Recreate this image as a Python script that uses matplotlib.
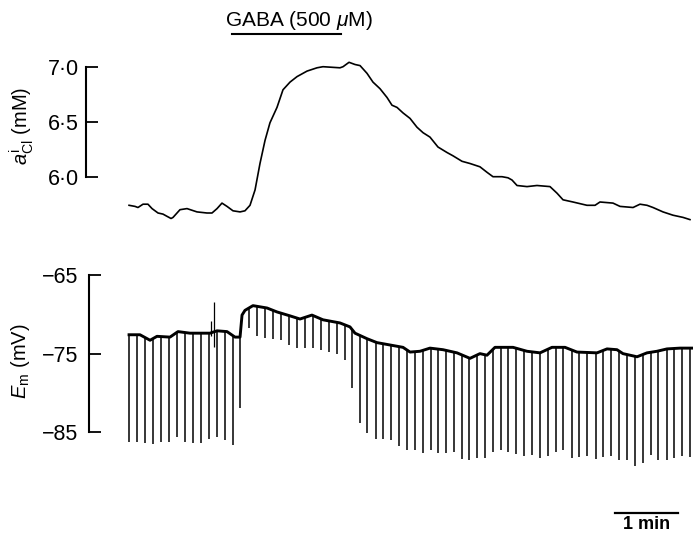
import numpy as np
import matplotlib
matplotlib.use('Agg')
import matplotlib.pyplot as plt

plt.rcParams['font.family'] = ['Liberation Sans', 'DejaVu Sans']
plt.rcParams['mathtext.fontset'] = 'custom'
plt.rcParams['mathtext.rm'] = 'Liberation Sans'
plt.rcParams['mathtext.it'] = 'Liberation Sans:italic'

# ---- data (time in s) ----
# intracellular Cl- activity (mM)
acl_t = [1.0, 6.7, 9.5, 14.3, 19.0, 22.9, 28.6, 33.3, 37.1, 41.0, 42.9, 49.5, 56.2,
         65.7, 75.2, 80.0, 84.8, 89.5, 94.3, 100.0, 106.7, 111.4, 116.2, 121.0,
         125.7, 130.5, 135.2, 141.9, 147.6, 154.3, 161.0, 170.5, 180.0, 185.7,
         201.9, 204.8, 210.5, 216.2, 221.0, 227.6, 233.3, 240.0, 246.7, 251.4,
         256.2, 261.9, 268.6, 275.2, 281.0, 287.6, 295.2, 303.8, 309.5, 318.1,
         325.7, 335.2, 341.9, 347.6, 356.2, 361.9, 365.7, 370.5, 380.0, 389.5,
         401.9, 408.6, 414.3, 423.8, 437.1, 444.8, 449.5, 461.9, 468.6, 481.0,
         487.6, 494.3, 500.0, 509.5, 519.0, 528.6, 535.2]
acl_v = [5.74, 5.73, 5.72, 5.75, 5.75, 5.71, 5.67, 5.66, 5.64, 5.62, 5.63, 5.70, 5.71,
         5.68, 5.67, 5.67, 5.71, 5.76, 5.73, 5.69, 5.68, 5.69, 5.74, 5.88,
         6.12, 6.33, 6.49, 6.63, 6.79, 6.86, 6.91, 6.96, 6.99, 7.00,
         6.99, 7.00, 7.04, 7.02, 7.01, 6.94, 6.86, 6.80, 6.72, 6.65,
         6.63, 6.58, 6.53, 6.45, 6.40, 6.36, 6.27, 6.22, 6.19, 6.14,
         6.12, 6.09, 6.04, 6.00, 6.00, 5.99, 5.97, 5.92, 5.91, 5.92,
         5.91, 5.85, 5.79, 5.77, 5.74, 5.74, 5.77, 5.76, 5.73, 5.72,
         5.75, 5.74, 5.72, 5.68, 5.65, 5.63, 5.61]

# membrane potential baseline (mV)
em_t = [1.0, 11.4, 21.0, 27.6, 40.0, 47.6, 59.0, 68.6, 78.1, 84.8, 94.3, 101.9, 106.7,
        108.6, 111.4, 119.0, 132.4, 141.9, 154.3, 163.8, 175.2, 185.7, 201.9, 211.4,
        216.2, 227.6, 237.1, 249.5, 261.9, 268.6, 278.1, 287.6, 300.0, 313.3, 325.7,
        335.2, 341.9, 349.5, 357.1, 366.7, 380.0, 392.4, 403.8, 416.2, 427.6, 446.7,
        456.2, 465.7, 471.4, 484.8, 494.3, 503.8, 513.3, 525.7, 538.1]
em_v = [-72.6, -72.6, -73.3, -72.8, -72.9, -72.2, -72.4, -72.4, -72.4, -72.1, -72.2, -72.9, -72.9,
        -70.1, -69.5, -68.9, -69.2, -69.7, -70.2, -70.6, -70.1, -70.7, -71.1, -71.6,
        -72.4, -73.1, -73.6, -73.9, -74.2, -74.8, -74.7, -74.3, -74.5, -74.9, -75.6,
        -75.0, -75.2, -74.2, -74.2, -74.2, -74.7, -74.9, -74.2, -74.2, -74.8, -74.9,
        -74.4, -74.5, -75.0, -75.4, -74.9, -74.7, -74.4, -74.3, -74.3]

# hyperpolarizing current pulses: time and peak (mV)
pulse_t = [1.2, 8.9, 16.2, 23.5, 31.1, 39.0, 47.0, 54.3, 62.2, 69.5, 77.4, 84.5, 92.4, 100.3,
           106.7, 115.5, 122.6, 130.5, 138.4, 145.7, 153.6, 161.2, 168.6, 175.9, 183.5,
           191.1, 198.8, 206.4, 213.6, 221.0, 227.9, 235.9, 243.1, 250.5, 258.1, 265.4,
           273.3, 280.7, 288.3, 295.5, 302.9, 310.5, 317.8, 325.0, 332.7, 340.0, 347.3,
           354.9, 362.2, 369.5, 377.1, 384.8, 392.4, 399.7, 407.3, 414.6, 422.6, 429.8,
           437.4, 445.4, 452.7, 460.0, 467.6, 474.9, 482.9, 490.2, 497.8, 505.0, 513.0,
           520.3, 527.8, 535.2]
pulse_v = [-86.2, -86.2, -86.4, -86.5, -86.2, -86.2, -85.6, -86.2, -86.4, -86.4, -85.8, -85.6, -86.0, -86.6,
           -81.9, -71.7, -72.8, -73.0, -73.1, -73.3, -73.9, -74.3, -74.3, -74.3, -74.5,
           -74.8, -75.0, -75.8, -79.4, -83.8, -85.1, -85.9, -85.9, -86.0, -86.8, -87.2,
           -87.3, -87.6, -87.2, -87.6, -87.6, -87.5, -88.4, -88.5, -88.3, -88.3, -87.5,
           -87.3, -87.5, -87.7, -88.0, -87.9, -88.3, -88.0, -87.5, -87.2, -88.3, -88.2,
           -88.0, -88.4, -88.1, -88.0, -88.5, -88.5, -89.3, -88.9, -87.9, -88.5, -88.5,
           -88.3, -88.0, -88.1]

# electrical artefacts
art_t = [78.8, 82.2]
art_lo = [-72.8, -74.1]
art_hi = [-70.8, -68.4]

gaba_on, gaba_off = 99.0, 202.9
acl_ticks = [6.0, 6.5, 7.0]
acl_labels = ['6·0', '6·5', '7·0']
em_ticks = [-85, -75, -65]
em_labels = ['\u221285', '\u221275', '\u221265']

# ---- layout (pixels -> figure fractions) ----
W, H = 693, 535
fig = plt.figure(figsize=(W / 100, H / 100), dpi=100)
px_per_s = 1.05
x0 = 128  # pixel of t = 0
xr = (693 - x0) / px_per_s

ax1 = fig.add_axes([86 / W, (H - 231.7) / H, (693 - 86) / W, 176 / H])
ax2 = fig.add_axes([89 / W, (H - 479.5) / H, (693 - 89) / W, 212.4 / H])
ax1.set_xlim((86 - x0) / px_per_s, xr)
ax2.set_xlim((89 - x0) / px_per_s, xr)
ax1.set_ylim(5.5, 7.1)
ax2.set_ylim(-91, -64)

ax1.plot(acl_t, acl_v, color='black', lw=1.2)

ax2.plot(em_t, em_v, color='black', lw=2.1, solid_joinstyle='round')
tops = np.interp(pulse_t, em_t, em_v)
ax2.vlines(pulse_t, pulse_v, tops, color='black', lw=1.1)
ax2.vlines(art_t, art_lo, art_hi, color='black', lw=0.9)

for ax, ticks, labels, pad in [(ax1, acl_ticks, acl_labels, 5), (ax2, em_ticks, em_labels, 8)]:
    for s in ['top', 'right', 'bottom']:
        ax.spines[s].set_visible(False)
    ax.spines['left'].set_bounds(ticks[0], ticks[-1])
    ax.spines['left'].set_linewidth(1.5)
    ax.set_yticks(ticks)
    ax.set_yticklabels(labels)
    ax.set_xticks([])
    ax.tick_params(axis='y', direction='in', length=8.6, width=1.3, pad=pad, labelsize=15.5)
    ax.patch.set_visible(False)

# GABA application bar
ax1.plot([gaba_on, gaba_off], [7.30, 7.30], color='black', lw=1.5, clip_on=False)
ax1.text((gaba_on + gaba_off) / 2 + 12, 7.42, 'GABA (500 $\\mu$M)', ha='center', va='center',
         fontsize=15)

# y labels
fig.text(22 / W, (H - 126) / H, '$a^{\\rm i}_{\\rm Cl}$ (mM)', rotation=90,
         ha='center', va='center', fontsize=14.5)
fig.text(21 / W, (H - 361) / H, '$E_{\\rm m}$ (mV)', rotation=90,
         ha='center', va='center', fontsize=14.5)

# 1 min scale bar
sb0 = (615 - x0) / px_per_s
ax2.plot([sb0, sb0 + 60], [-95.2, -95.2], color='black', lw=1.6, clip_on=False)
ax2.text(sb0 + 30, -97.3, '1 min', ha='center', va='baseline', fontsize=13, fontweight='bold')

fig.savefig('out.png', dpi=100)
